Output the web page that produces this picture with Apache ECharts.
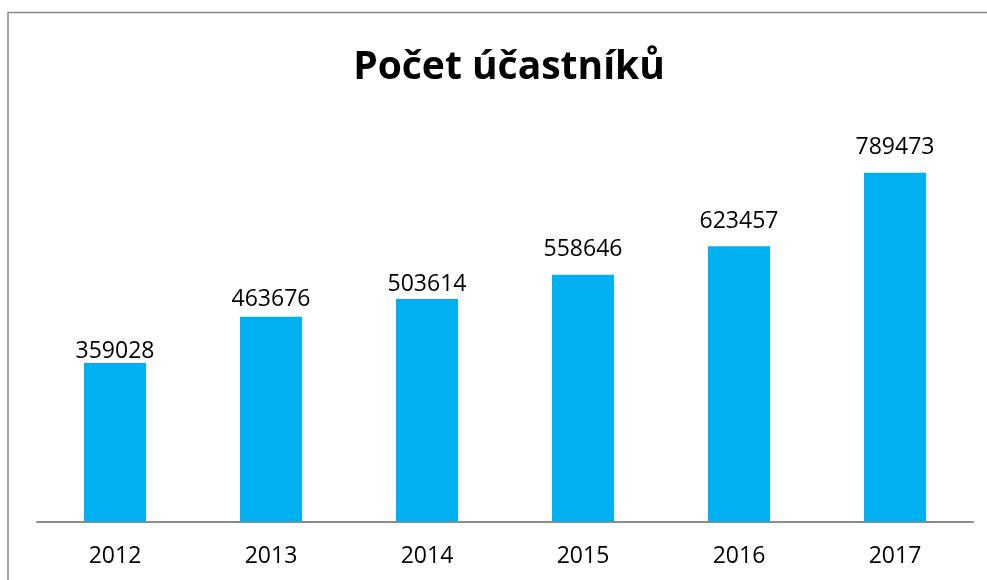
<!DOCTYPE html>
<html>
<head>
<meta charset="utf-8">
<script src="https://cdn.jsdelivr.net/npm/echarts@6/dist/echarts.min.js"></script>
<style>
html,body{margin:0;padding:0;background:#fff;}
#c{width:987px;height:580px;}
</style>
</head>
<body>
<div id="c"></div>
<script>
const title = 'Počet účastníků';
const categories = ['2012', '2013', '2014', '2015', '2016', '2017'];
const values = [359028, 463676, 503614, 558646, 623457, 789473];

// label distance above each bar (style only)
const labelGaps = [0, 6, 3, 14, 13, 14];

const chart = echarts.init(document.getElementById('c'), null, {renderer: 'canvas'});
chart.setOption({
  animation: false,
  backgroundColor: '#ffffff',
  title: {
    text: title,
    left: 504,
    textAlign: 'center',
    top: 43,
    textStyle: {fontFamily: 'Open Sans', fontWeight: 'bold', fontSize: 39, color: '#000'}
  },
  graphic: [{
    type: 'rect',
    shape: {x: 8, y: 12.5, width: 1200, height: 1000},
    style: {fill: 'none', stroke: '#8c8c8c', lineWidth: 1.5},
    silent: true
  }],
  grid: {left: 37, right: 14, top: 124, bottom: 58.5, containLabel: false},
  xAxis: {
    type: 'category',
    data: categories,
    axisLine: {show: true, lineStyle: {color: '#8c8c8c', width: 2}},
    axisTick: {show: false},
    axisLabel: {fontFamily: 'Open Sans', fontSize: 23, color: '#000', margin: 23}
  },
  yAxis: {
    type: 'value',
    min: 0,
    max: 900000,
    show: false,
    splitLine: {show: false}
  },
  series: [{
    type: 'bar',
    data: values.map((v, i) => ({value: v, label: {distance: labelGaps[i]}})),
    barWidth: 62,
    itemStyle: {color: '#00b0f0'},
    label: {
      show: true,
      position: 'top',
      fontFamily: 'Open Sans',
      fontSize: 23,
      color: '#000'
    }
  }]
});
</script>
</body>
</html>
